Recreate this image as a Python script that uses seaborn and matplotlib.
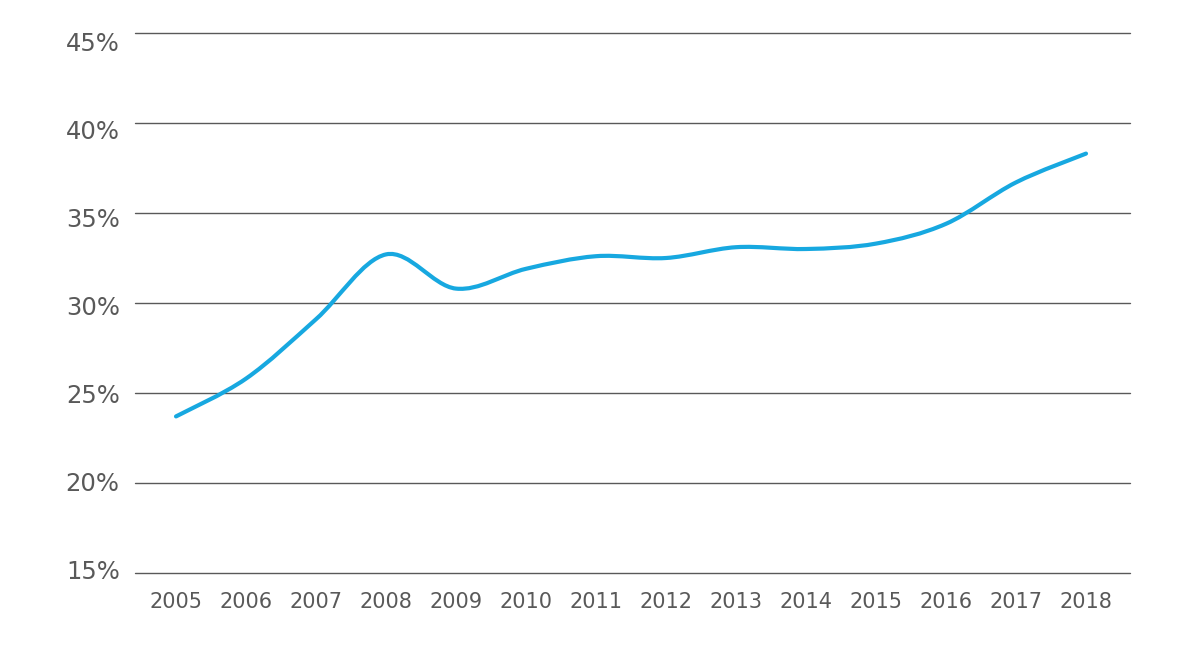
import matplotlib
matplotlib.use("Agg")
import matplotlib.pyplot as plt
import matplotlib.transforms as mtransforms
from matplotlib.path import Path
from matplotlib.patches import PathPatch
from matplotlib.ticker import FixedLocator, FuncFormatter
import seaborn as sns

# values (share in %)
years = [2005, 2006, 2007, 2008, 2009, 2010, 2011, 2012, 2013, 2014, 2015, 2016, 2017, 2018]
share = [23.7, 25.8, 29.1, 32.7, 30.8, 31.9, 32.6, 32.5, 33.1, 33.0, 33.3, 34.4, 36.7, 38.3]
y_ticks = [15, 20, 25, 30, 35, 40, 45]

line_color = "#17a8e0"
text_color = "#595959"
grid_color = "#595959"

sns.set_theme(style="white")
plt.rcParams["font.family"] = ["DejaVu Sans"]

fig, ax = plt.subplots(figsize=(12.01, 6.65), dpi=100)
fig.subplots_adjust(left=0.1124, right=0.9409, bottom=0.1383, top=0.9504)

# smoothed line (Excel-style Catmull-Rom Bezier through the data points)
pts = list(zip(years, share))
n = len(pts)
verts = [pts[0]]
codes = [Path.MOVETO]
for i in range(n - 1):
    p0 = pts[max(i - 1, 0)]
    p1 = pts[i]
    p2 = pts[i + 1]
    p3 = pts[min(i + 2, n - 1)]
    c1 = (p1[0] + (p2[0] - p0[0]) / 6, p1[1] + (p2[1] - p0[1]) / 6)
    c2 = (p2[0] - (p3[0] - p1[0]) / 6, p2[1] - (p3[1] - p1[1]) / 6)
    verts += [c1, c2, p2]
    codes += [Path.CURVE4] * 3
ax.add_patch(PathPatch(Path(verts, codes), facecolor="none", edgecolor=line_color,
                       lw=3.0, capstyle="round", joinstyle="round", zorder=3))

ax.set_xlim(2004.414, 2018.629)
ax.set_ylim(15, 45)
ax.xaxis.set_major_locator(FixedLocator(years))
ax.yaxis.set_major_locator(FixedLocator(y_ticks))
ax.xaxis.set_major_formatter(FuncFormatter(lambda v, p: f"{int(round(v))}"))
ax.yaxis.set_major_formatter(FuncFormatter(lambda v, p: f"{int(round(v))}%"))

ax.grid(axis="y", color=grid_color, lw=1.0)
ax.grid(axis="x", visible=False)
for s in ax.spines.values():
    s.set_visible(False)

ax.tick_params(axis="y", length=0, pad=11, labelsize=17.5, labelcolor=text_color)
ax.tick_params(axis="x", length=0, pad=14, labelsize=15, labelcolor=text_color)
ax.set_xlabel("")
ax.set_ylabel("")

# y labels in the reference sit a little off their gridlines (more at the top)
for v, tick in zip(y_ticks, ax.yaxis.get_major_ticks()):
    tick.gridline.set_clip_on(False)
    dy = 9 - 13 * (45 - v) / 30
    tick.label1.set_transform(tick.label1.get_transform()
                              + mtransforms.ScaledTranslation(0, -dy / 100, fig.dpi_scale_trans))

fig.savefig("out.png", dpi=100, facecolor="white")
